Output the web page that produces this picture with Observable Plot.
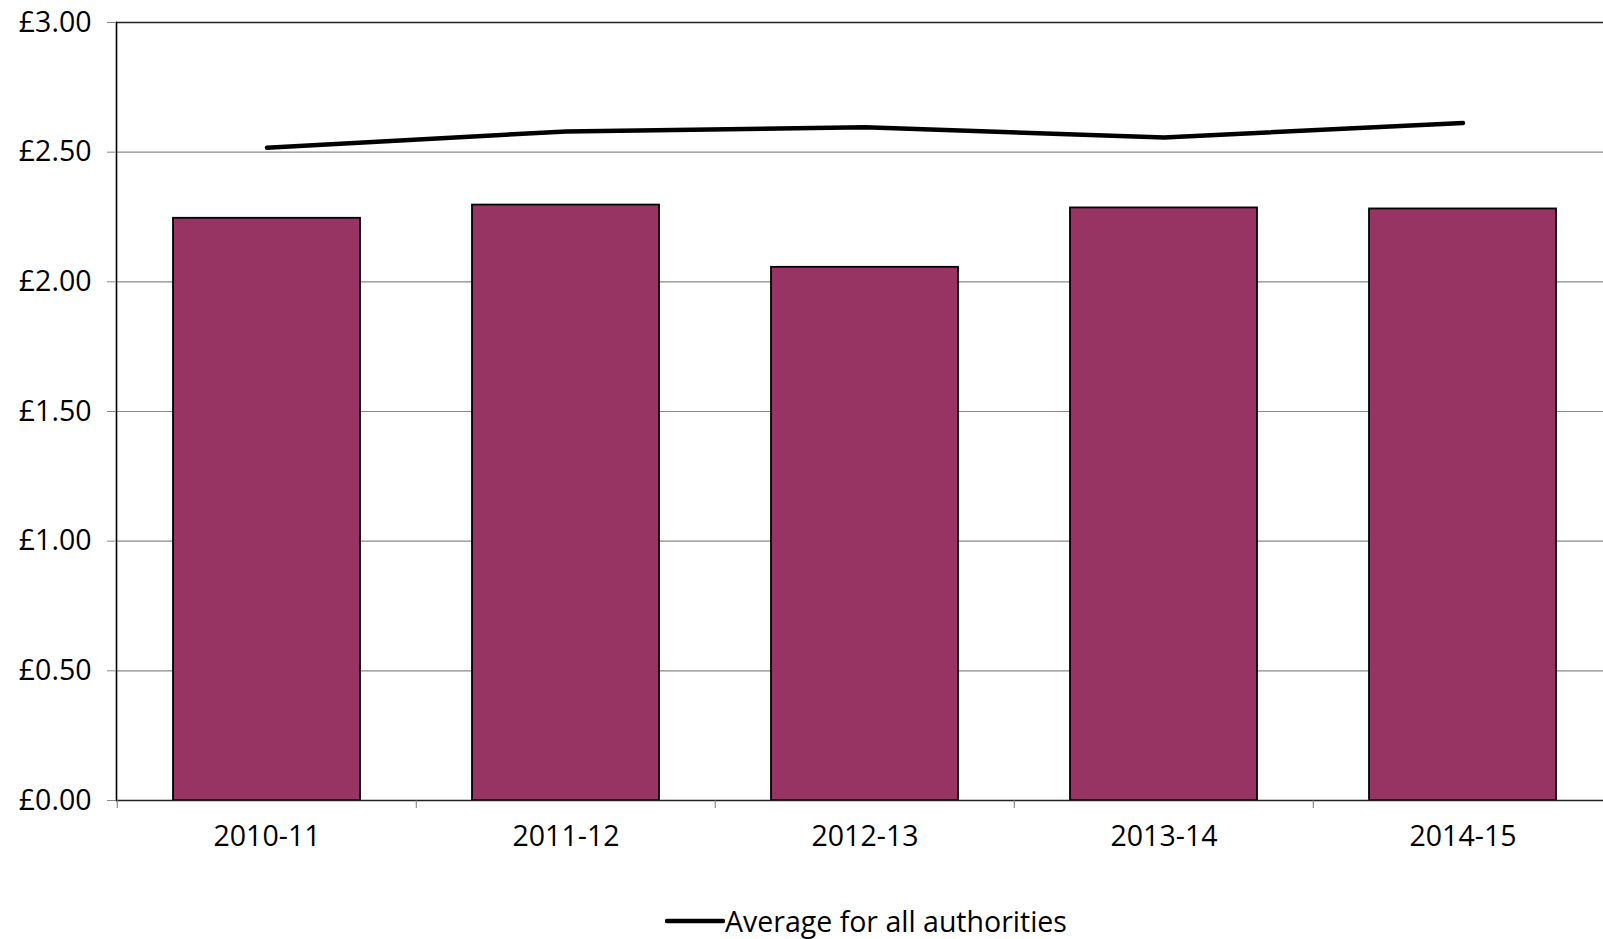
<!DOCTYPE html>
<html>
<head>
<meta charset="utf-8">
<script src="https://cdn.jsdelivr.net/npm/d3@7"></script>
<script src="https://cdn.jsdelivr.net/npm/@observablehq/plot@0.6"></script>
<style>
  html, body { margin: 0; padding: 0; background: #fff; overflow: hidden; }
  body { width: 1603px; height: 939px; position: relative; font-family: "Open Sans", sans-serif; }
  #chart svg { display: block; }
  #legend { position: absolute; left: 665px; top: 902px; display: flex; align-items: center; font-size: 28.5px; color: #000; white-space: nowrap; }
</style>
</head>
<body>
<div id="chart"></div>
<div id="legend"><svg width="60" height="10"><line x1="2" y1="5" x2="58" y2="5" stroke="#000" stroke-width="4.5" stroke-linecap="round"/></svg><span>Average for all authorities</span></div>
<script>
const years = ["2010-11", "2011-12", "2012-13", "2013-14", "2014-15"];
const spend = [2.245, 2.296, 2.056, 2.285, 2.281];
const average = [2.517, 2.580, 2.596, 2.557, 2.612];
const yTicks = [0, 0.5, 1.0, 1.5, 2.0, 2.5, 3.0];

const rows = years.map((y, i) => ({year: y, spend: spend[i], average: average[i]}));

const W = 1603, H = 870;
const xRange = [116, 1613.5];
const bw = (xRange[1] - xRange[0]) / years.length;

const chart = Plot.plot({
  width: W,
  height: H,
  marginLeft: 116,
  marginTop: 22,
  marginBottom: 70,
  marginRight: 0,
  style: {fontFamily: "'Open Sans', sans-serif", fontSize: "28.5px", color: "#000", background: "#fff"},
  x: {domain: years, range: xRange, padding: 0, label: null},
  y: {domain: [0, 3], label: null},
  marks: [
    Plot.ruleY(yTicks.filter(d => d > 0 && d < 3), {stroke: "#8a8a8a", strokeWidth: 1.2}),
    Plot.barY(rows, {x: "year", y: "spend", fill: "#983464", stroke: "#000", strokeWidth: 1.8, insetLeft: 56, insetRight: 56}),
    Plot.ruleY([3], {stroke: "#222", strokeWidth: 1.6}),
    Plot.ruleY([0], {stroke: "#222", strokeWidth: 1.4}),
    Plot.frame({anchor: "left", stroke: "#000", strokeWidth: 1.6}),
    Plot.ruleX(years, {x: d => d, y1: 0, y2: 0, insetBottom: -8, dx: -bw / 2, stroke: "#777", strokeWidth: 1}),
    Plot.line(rows, {x: "year", y: "average", stroke: "#000", strokeWidth: 4.5, strokeLinecap: "round", strokeLinejoin: "round"}),
    Plot.axisY({ticks: yTicks, tickFormat: d => "£" + d.toFixed(2), tickSize: 9, tickPadding: 16, stroke: "#888", fill: "#000", fontSize: 28.5}),
    Plot.axisX({tickSize: 0, tickPadding: 25, fill: "#000", fontSize: 28.5})
  ]
});
document.getElementById("chart").appendChild(chart);
</script>
</body>
</html>
